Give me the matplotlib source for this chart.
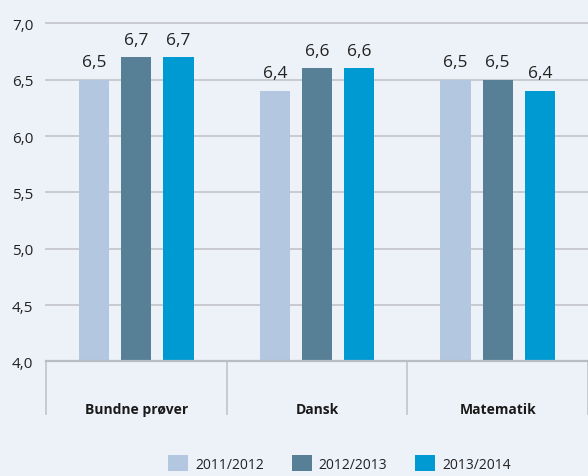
import matplotlib
matplotlib.use("Agg")
import matplotlib.pyplot as plt
import numpy as np
from matplotlib.patches import Patch

categories = ["Bundne prøver", "Dansk", "Matematik"]
series = ["2011/2012", "2012/2013", "2013/2014"]
values = {
    "2011/2012": [6.5, 6.4, 6.5],
    "2012/2013": [6.7, 6.6, 6.5],
    "2013/2014": [6.7, 6.6, 6.4],
}
yticks = [4.0, 4.5, 5.0, 5.5, 6.0, 6.5, 7.0]
colors = ["#B3C7E1", "#577F96", "#009AD2"]
bg = "#EDF1F8"
gridc = "#C6C8CC"

plt.rcParams['font.family'] = ['Open Sans', 'DejaVu Sans']

W, H = 588, 477
fig = plt.figure(figsize=(W/100, H/100), dpi=100, facecolor=bg)
ax = fig.add_axes([46/W, (H-362.5)/H, (588-46)/W, (362.5-24.3)/H])
ax.set_facecolor(bg)

x = np.arange(len(categories))
bw = 30/180
step = 42/180
for i, s in enumerate(series):
    xs = x + (i-1)*step
    ax.bar(xs, values[s], bw, bottom=0, color=colors[i], zorder=3, label=s)
    for xi, v in zip(xs, values[s]):
        ax.text(xi, v + 0.085, f"{v:.1f}".replace(".", ","), ha="center", va="bottom",
                fontsize=12.5, color="#222222", clip_on=False)

ax.set_ylim(4.0, 7.0)
ax.set_xlim(-0.5, 2.5)
ax.set_yticks(yticks)
ax.set_yticklabels([f"{t:.1f}".replace(".", ",") for t in yticks], fontsize=11, color="#222222")
ax.tick_params(axis="y", length=0, pad=9)
ax.tick_params(axis="x", length=0)
ax.set_xticks([])
for sp in ax.spines.values():
    sp.set_visible(False)
for t in yticks[1:]:
    ax.axhline(t, color=gridc, lw=1.3, zorder=1, clip_on=False)
ax.axhline(4.0, color="#B9BCC0", lw=1.6, zorder=4, clip_on=False)

# category separators below axis
for sx in [-0.5, 0.5, 1.5, 2.5]:
    ax.plot([sx, sx], [4.0, 4.0 - 52/112.7], color="#C6C8CC", lw=1.3, clip_on=False, zorder=2)

for xi, c in zip(x, categories):
    ax.text(xi, 4.0 - 47/112.7, c, ha="center", va="center", fontsize=10,
            fontweight="bold", color="#1a1a1a", clip_on=False)

handles = [Patch(facecolor=colors[i], edgecolor="none", label=s) for i, s in enumerate(series)]
fig.legend(handles=handles, loc="upper left", bbox_to_anchor=(168/W, (H-456)/H), ncol=3,
           frameon=False, fontsize=10, handlelength=1.45, handleheight=1.45,
           handletextpad=0.5, columnspacing=2.0, borderpad=0, borderaxespad=0,
           labelcolor="#222222")

fig.savefig("out.png", dpi=100, facecolor=bg)
